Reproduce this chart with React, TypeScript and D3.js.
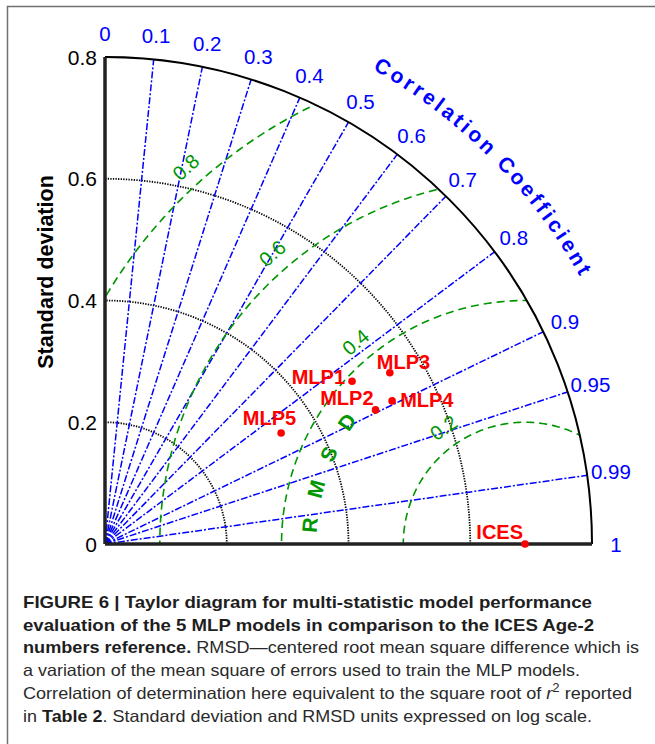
import * as d3 from "d3";

// values
const models = ["MLP1", "MLP2", "MLP3", "MLP4", "MLP5", "ICES"];
const stdDev = [0.486, 0.496, 0.546, 0.527, 0.342, 0.69];
const correlation = [0.835, 0.896, 0.857, 0.895, 0.846, 1];

const stdTicks = [0, 0.2, 0.4, 0.6, 0.8];
const stdTickLabels = ["0", "0.2", "0.4", "0.6", "0.8"];
const stdGrid = [0.2, 0.4, 0.6];
const corrTicks = [0, 0.1, 0.2, 0.3, 0.4, 0.5, 0.6, 0.7, 0.8, 0.9, 0.95, 0.99, 1];
const corrTickLabels = ["0", "0.1", "0.2", "0.3", "0.4", "0.5", "0.6", "0.7", "0.8", "0.9", "0.95", "0.99", "1"];
const rmsdLevels = [0.2, 0.4, 0.6, 0.8];
const rmsdLabels = ["0.2", "0.4", "0.6", "0.8"];
const rmsdTitle = ["R", "M", "S", "D"];
const corrTitle = "Correlation Coefficient";

// where each model name sits relative to its dot (px)
const labelPlacement: Record<string, { anchor: string; dx: number; dy: number }> = {
  MLP1: { anchor: "end", dx: -7, dy: -4 },
  MLP2: { anchor: "end", dx: -2, dy: -12 },
  MLP3: { anchor: "start", dx: -13, dy: -11 },
  MLP4: { anchor: "start", dx: 8, dy: -1 },
  MLP5: { anchor: "end", dx: 15, dy: -15 },
  ICES: { anchor: "end", dx: -2, dy: -12 },
};
// angle (deg, around the reference point) of each RMSD contour label
const rmsdLabelAngle = [125, 130, 131, 132];

// rough bold glyph advances (em) to lay the curved title out letter by letter
const boldAdvance: Record<string, number> = {
  C: 0.722, o: 0.611, r: 0.389, e: 0.556, l: 0.278, a: 0.556, t: 0.333,
  i: 0.278, n: 0.611, " ": 0.278, f: 0.333, c: 0.556,
};

const FONT = "'Liberation Sans', Arial, Helvetica, sans-serif";
const BLUE = "#0000ff";
const GREEN = "rgb(0,150,0)";
const RED = "#ff0000";

export default function App() {
  const width = 655;
  const height = 744;
  const cx = 105;
  const cy = 544;

  const r = d3.scaleLinear().domain([0, 0.8]).range([0, 487]);
  const R = r(0.8);
  const refStd = stdDev[models.indexOf("ICES")];

  const polar = (s: number, c: number) => {
    const a = Math.acos(c);
    return [cx + r(s) * Math.cos(a), cy - r(s) * Math.sin(a)];
  };

  const quarterArc = (rad: number) => {
    const p = d3.path();
    p.moveTo(cx + rad, cy);
    p.arc(cx, cy, rad, 0, -Math.PI / 2, true);
    return p.toString();
  };

  const clip = d3.arc()({
    innerRadius: 0,
    outerRadius: R,
    startAngle: 0,
    endAngle: Math.PI / 2,
  } as any) as string;

  const rmsdPath = (L: number) =>
    d3
      .line<number>()
      .x((deg) => cx + r(refStd + L * Math.cos((deg * Math.PI) / 180)))
      .y((deg) => cy - r(L * Math.sin((deg * Math.PI) / 180)))(d3.range(0, 180.5, 1)) as string;

  const refX = cx + r(refStd);
  const rmsdTitleRadius = r(0.355);
  const rmsdTitleAngles = [175, 165.2, 155.4, 145.6];

  // curved "Correlation Coefficient" title, one glyph at a time
  const titleSize = 21;
  const titleSpacing = 3.2;
  const titleRadius = 545;
  const chars = corrTitle.split("");
  const widths = chars.map((ch) => (boldAdvance[ch] ?? 0.55) * titleSize + titleSpacing);
  const total = d3.sum(widths) - titleSpacing;
  const cum = d3.cumsum(widths);
  const titleGlyphs = chars.map((ch, i) => {
    const s = cum[i] - widths[i] + (widths[i] - titleSpacing) / 2;
    const deg = 45 + ((total / 2 - s) / titleRadius) * (180 / Math.PI);
    const a = (deg * Math.PI) / 180;
    return { ch, deg, x: cx + titleRadius * Math.cos(a), y: cy - titleRadius * Math.sin(a) };
  });

  const captionX = 23;
  const captionY0 = 608;
  const lh = 22.7;

  return (
    <svg
      width={width}
      height={height}
      style={{ position: "absolute", left: 0, top: 0, background: "#fff" }}
      fontFamily={FONT}
    >
      <defs>
        <clipPath id="quarter">
          <path d={clip} transform={`translate(${cx},${cy})`} />
        </clipPath>
      </defs>
      <rect x={0} y={0} width={width} height={height} fill="#fff" />
      <rect x={7.5} y={6.5} width={700} height={800} fill="none" stroke="#707070" strokeWidth={1.5} />

      {/* standard deviation arcs */}
      {stdGrid.map((s) => (
        <path key={s} d={quarterArc(r(s))} fill="none" stroke="#000" strokeWidth={1.8} strokeDasharray="1.3,1.3" />
      ))}

      {/* correlation rays */}
      {corrTicks
        .filter((c) => c > 0 && c < 1)
        .map((c) => {
          const [x, y] = polar(0.8, c);
          return (
            <line key={c} x1={cx} y1={cy} x2={x} y2={y} stroke={BLUE} strokeWidth={1.5} strokeDasharray="7,2,2,2" />
          );
        })}

      {/* RMSD contours */}
      <g clipPath="url(#quarter)">
        {rmsdLevels.map((L) => (
          <path key={L} d={rmsdPath(L)} fill="none" stroke={GREEN} strokeWidth={1.6} strokeDasharray="8,5" />
        ))}
      </g>
      {rmsdLevels.map((L, i) => {
        const a = (rmsdLabelAngle[i] * Math.PI) / 180;
        const rad = r(L) + 20;
        const x = refX + rad * Math.cos(a);
        const y = cy - rad * Math.sin(a);
        return (
          <text
            key={L}
            transform={`translate(${x},${y}) rotate(${90 - rmsdLabelAngle[i]})`}
            textAnchor="middle"
            dominantBaseline="central"
            fill={GREEN}
            fontSize={20}
          >
            {rmsdLabels[i]}
          </text>
        );
      })}
      {rmsdTitle.map((ch, i) => {
        const deg = rmsdTitleAngles[i];
        const a = (deg * Math.PI) / 180;
        const x = refX + rmsdTitleRadius * Math.cos(a);
        const y = cy - rmsdTitleRadius * Math.sin(a);
        return (
          <text
            key={ch}
            transform={`translate(${x},${y}) rotate(${90 - deg})`}
            textAnchor="middle"
            dominantBaseline="central"
            fill={GREEN}
            fontSize={21}
            fontWeight="bold"
          >
            {ch}
          </text>
        );
      })}

      {/* outer arc and axes */}
      <path d={quarterArc(R)} fill="none" stroke="#000" strokeWidth={2} />
      <line x1={cx} y1={cy} x2={cx} y2={cy - R} stroke="#222" strokeWidth={3.5} />
      <line x1={cx} y1={cy} x2={cx + R} y2={cy} stroke="#222" strokeWidth={3.5} />

      {/* std tick labels */}
      {stdTicks.map((s, i) => (
        <text key={s} x={cx - 8} y={cy - r(s)} textAnchor="end" dominantBaseline="central" fontSize={21} fill="#000">
          {stdTickLabels[i]}
        </text>
      ))}
      <text
        transform={`translate(53,272) rotate(-90)`}
        textAnchor="middle"
        fontSize={21.5}
        fontWeight="bold"
        fill="#000"
      >
        Standard deviation
      </text>

      {/* correlation tick labels */}
      {corrTicks.map((c, i) => {
        const [x, y] = polar(r.invert(511), c);
        return (
          <text key={c} x={x} y={y} textAnchor="middle" dominantBaseline="central" fontSize={20.5} fill={BLUE}>
            {corrTickLabels[i]}
          </text>
        );
      })}
      <g fontSize={titleSize} fontWeight="bold" fill={BLUE}>
        {titleGlyphs
          .filter((g) => g.ch !== " ")
          .map((g, i) => (
            <text key={i} transform={`translate(${g.x},${g.y}) rotate(${90 - g.deg})`} textAnchor="middle">
              {g.ch}
            </text>
          ))}
      </g>

      {/* model points */}
      {models.map((m, i) => {
        const [x, y] = polar(stdDev[i], correlation[i]);
        const lp = labelPlacement[m];
        return (
          <g key={m}>
            <circle cx={x} cy={y} r={3.8} fill={RED} />
            <text
              x={x + lp.dx}
              y={y + lp.dy}
              textAnchor={lp.anchor}
              dominantBaseline="central"
              fontSize={20}
              fontWeight="bold"
              fill={RED}
            >
              {m}
            </text>
          </g>
        );
      })}

      {/* caption */}
      <g fontSize={16.5} fill="#2a2a2a">
        <text x={captionX} y={captionY0} textLength={569} lengthAdjust="spacingAndGlyphs" fontWeight="bold" fill="#1e1e1e">
          FIGURE 6 | Taylor diagram for multi-statistic model performance
        </text>
        <text x={captionX} y={captionY0 + lh} textLength={571} lengthAdjust="spacingAndGlyphs" fontWeight="bold" fill="#1e1e1e">
          evaluation of the 5 MLP models in comparison to the ICES Age-2
        </text>
        <text x={captionX} y={captionY0 + 2 * lh} textLength={616} lengthAdjust="spacingAndGlyphs">
          <tspan fontWeight="bold" fill="#1e1e1e">numbers reference.</tspan>
          <tspan> RMSD—centered root mean square difference which is</tspan>
        </text>
        <text x={captionX} y={captionY0 + 3 * lh} textLength={557} lengthAdjust="spacingAndGlyphs">
          a variation of the mean square of errors used to train the MLP models.
        </text>
        <text x={captionX} y={captionY0 + 4 * lh} textLength={609} lengthAdjust="spacingAndGlyphs">
          <tspan>Correlation of determination here equivalent to the square root of </tspan>
          <tspan fontStyle="italic">r</tspan>
          <tspan dy={-7} fontSize={12}>2</tspan>
          <tspan dy={7}> reported</tspan>
        </text>
        <text x={captionX} y={captionY0 + 5 * lh} textLength={569} lengthAdjust="spacingAndGlyphs">
          <tspan>in </tspan>
          <tspan fontWeight="bold" fill="#1e1e1e">Table 2</tspan>
          <tspan>. Standard deviation and RMSD units expressed on log scale.</tspan>
        </text>
      </g>
    </svg>
  );
}
